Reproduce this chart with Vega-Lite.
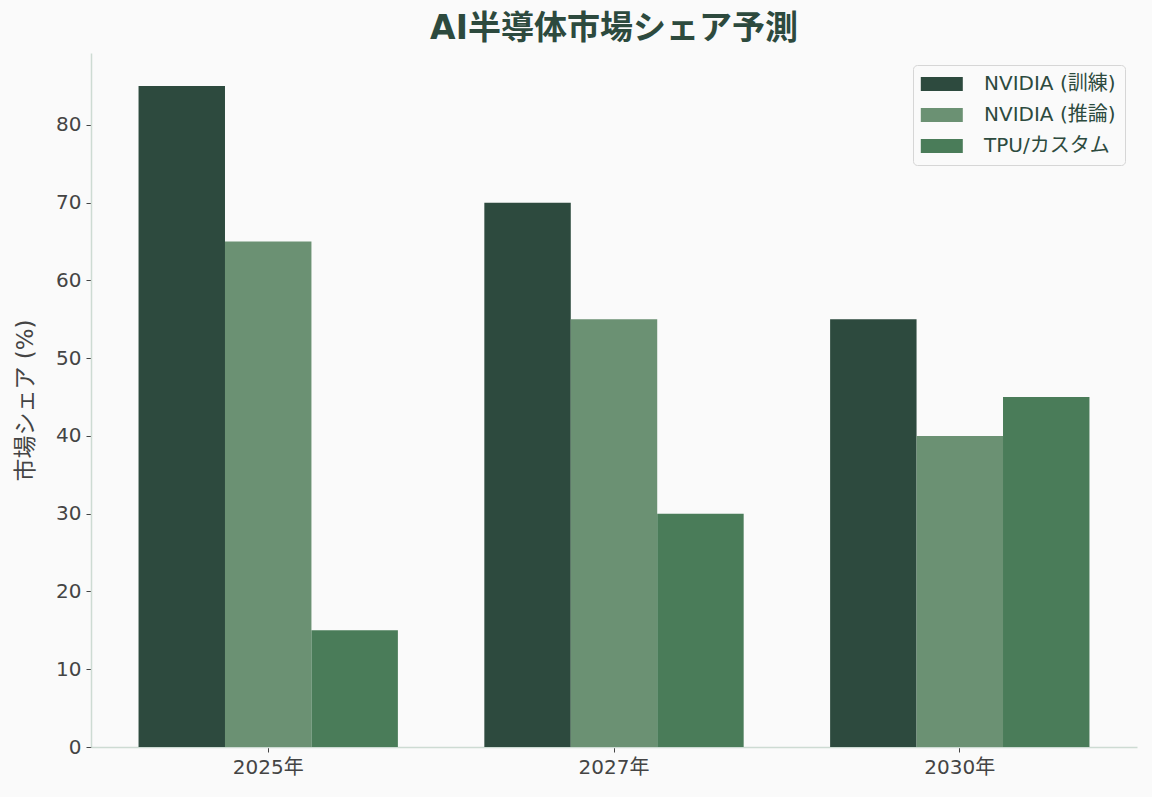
{
  "$schema": "https://vega.github.io/schema/vega-lite/v6.json",
  "width": 1046,
  "height": 694,
  "autosize": "none",
  "padding": {"left": 91, "top": 53, "right": 15, "bottom": 50},
  "background": "#fafafa",
  "title": {
    "text": "AI半導体市場シェア予測",
    "font": "DejaVu Sans, Noto Sans CJK JP",
    "fontSize": 33,
    "fontWeight": "bold",
    "color": "#2d4a3e",
    "anchor": "middle",
    "offset": 7
  },
  "config": {
    "view": {"stroke": null},
    "font": "DejaVu Sans, Noto Sans CJK JP"
  },
  "data": {
    "values": [
      {"year": "2025年", "type": "NVIDIA (訓練)", "share": 85},
      {"year": "2025年", "type": "NVIDIA (推論)", "share": 65},
      {"year": "2025年", "type": "TPU/カスタム", "share": 15},
      {"year": "2027年", "type": "NVIDIA (訓練)", "share": 70},
      {"year": "2027年", "type": "NVIDIA (推論)", "share": 55},
      {"year": "2027年", "type": "TPU/カスタム", "share": 30},
      {"year": "2030年", "type": "NVIDIA (訓練)", "share": 55},
      {"year": "2030年", "type": "NVIDIA (推論)", "share": 40},
      {"year": "2030年", "type": "TPU/カスタム", "share": 45}
    ]
  },
  "mark": {"type": "bar"},
  "encoding": {
    "x": {
      "field": "year",
      "type": "nominal",
      "title": null,
      "scale": {"paddingInner": 0.25, "paddingOuter": 0.1375},
      "axis": {
        "labelAngle": 0,
        "labelFont": "DejaVu Sans, Noto Sans CJK JP",
        "labelFontSize": 20,
        "labelColor": "#444444",
        "labelPadding": 5,
        "domainColor": "#cddbd3",
        "domainWidth": 1.5,
        "tickColor": "#444444",
        "tickSize": 5,
        "grid": false
      }
    },
    "xOffset": {
      "field": "type",
      "type": "nominal",
      "sort": ["NVIDIA (訓練)", "NVIDIA (推論)", "TPU/カスタム"],
      "scale": {"paddingInner": 0, "paddingOuter": 0}
    },
    "y": {
      "field": "share",
      "type": "quantitative",
      "title": "市場シェア (%)",
      "scale": {"domain": [0, 89.25], "nice": false},
      "axis": {
        "values": [0, 10, 20, 30, 40, 50, 60, 70, 80],
        "grid": false,
        "labelFont": "DejaVu Sans, Noto Sans CJK JP",
        "labelFontSize": 20,
        "labelColor": "#444444",
        "labelPadding": 5,
        "titleFont": "DejaVu Sans, Noto Sans CJK JP",
        "titleFontSize": 23,
        "titleFontWeight": "normal",
        "titleColor": "#444444",
        "titlePadding": 18,
        "domainColor": "#cddbd3",
        "domainWidth": 1.5,
        "tickColor": "#444444",
        "tickSize": 5
      }
    },
    "color": {
      "field": "type",
      "type": "nominal",
      "sort": ["NVIDIA (訓練)", "NVIDIA (推論)", "TPU/カスタム"],
      "scale": {
        "domain": ["NVIDIA (訓練)", "NVIDIA (推論)", "TPU/カスタム"],
        "range": ["#2d4a3e", "#6b9173", "#4a7c59"]
      },
      "legend": {
        "title": null,
        "orient": "none",
        "legendX": 822,
        "legendY": 12,
        "padding": 9,
        "strokeColor": "#d6d6d6",
        "fillColor": "#fafafa",
        "cornerRadius": 4,
        "symbolType": "M-1.6,-1H4.4V1H-1.6Z",
        "symbolSize": 196,
        "symbolStrokeWidth": 0,
        "symbolOpacity": 1,
        "labelOffset": 42,
        "labelFont": "DejaVu Sans, Noto Sans CJK JP",
        "labelFontSize": 20,
        "labelColor": "#2d4a3e",
        "rowPadding": 11
      }
    }
  }
}
